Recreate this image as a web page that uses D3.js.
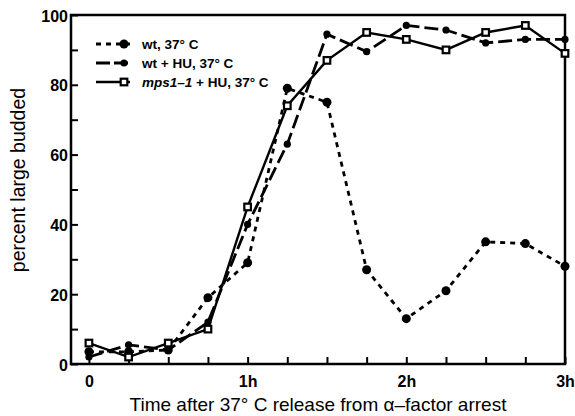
<!DOCTYPE html>
<html>
<head>
<meta charset="utf-8">
<script src="https://cdn.jsdelivr.net/npm/d3@7"></script>
<style>
  body { margin: 0; background: #fff; }
  text { font-family: "Liberation Sans", Arial, sans-serif; fill: #000; }
</style>
</head>
<body>
<svg id="chart" width="575" height="416"></svg>
<script>
// time points in hours
const times = [0, 0.25, 0.5, 0.75, 1, 1.25, 1.5, 1.75, 2, 2.25, 2.5, 2.75, 3];
const wt37 = [3.5, 3.5, 4, 19, 29, 79, 75, 27, 13, 21, 35, 34.5, 28];
const wtHU = [2, 5.5, 4, 12, 40, 63, 94.5, 89.5, 97, 95.7, 92, 93, 93];
const mps1HU = [6, 2, 6, 10, 45, 74, 87, 95, 93, 90, 95, 97, 89];
const xTickLabels = ['0', '1h', '2h', '3h'];
const yTickLabels = [0, 20, 40, 60, 80, 100];

const svg = d3.select('#chart');
const margin = {left: 71, right: 10, top: 15, bottom: 52};
const W = 575, H = 416;

const x = d3.scaleLinear().domain([-0.113, 3]).range([margin.left, W - margin.right]);
const y = d3.scaleLinear().domain([0, 100]).range([H - margin.bottom, margin.top]);

//frame
svg.append('rect')
    .attr('x', x.range()[0])
    .attr('y', y(100))
    .attr('width', x.range()[1] - x.range()[0])
    .attr('height', y(0) - y(100))
    .attr('fill', 'none')
    .attr('stroke', '#000')
    .attr('stroke-width', 2.5);

//y axis ticks
const yAxis = d3.axisLeft(y)
    .tickValues(d3.range(0, 101, 10))
    .tickSizeInner(-7)
    .tickSizeOuter(0)
    .tickPadding(10)
    .tickFormat(d => yTickLabels.includes(d) ? d : '');
const gy = svg.append('g')
    .attr('transform', `translate(${x.range()[0]},0)`)
    .call(yAxis);
gy.select('.domain').remove();
gy.selectAll('line').attr('stroke-width', 2);
gy.selectAll('text')
    .attr('x', -3)
    .style('font-size', '16px')
    .style('font-weight', 'bold')
    .attr('dy', '0.38em');

//x axis ticks
const xAxis = d3.axisBottom(x)
    .tickValues(d3.range(0, 3.01, 0.25))
    .tickSizeInner(-7)
    .tickSizeOuter(0)
    .tickPadding(12)
    .tickFormat(d => (d % 1 === 0) ? xTickLabels[d] : '');
const gx = svg.append('g')
    .attr('transform', `translate(0,${y(0)})`)
    .call(xAxis);
gx.select('.domain').remove();
gx.selectAll('line').attr('stroke-width', 2);
gx.selectAll('text')
    .style('font-size', '16px')
    .style('font-weight', 'bold');

//axis titles
svg.append('text')
    .attr('x', 318)
    .attr('y', 411)
    .attr('text-anchor', 'middle')
    .style('font-size', '19px')
    .text('Time after 37\u00b0 C release from \u03b1\u2013factor arrest');

svg.append('text')
    .attr('transform', 'translate(25,180) rotate(-90)')
    .attr('text-anchor', 'middle')
    .style('font-size', '19.5px')
    .text('percent large budded');

//series
const series = [
    {name: 'wt37', values: wt37, dash: '5,5', width: 2.8, marker: 'bigdot'},
    {name: 'wtHU', values: wtHU, dash: '14,5', width: 2.8, marker: 'dot'},
    {name: 'mps1', values: mps1HU, dash: null, width: 2.4, marker: 'square'}
];

const line = d3.line()
    .x((d, i) => x(times[i]))
    .y(d => y(d));

function drawMarker(g, type, cx, cy) {
    if (type === 'bigdot') {
        g.append('circle').attr('cx', cx).attr('cy', cy).attr('r', 4.5).attr('fill', '#000');
    } else if (type === 'dot') {
        g.append('circle').attr('cx', cx).attr('cy', cy).attr('r', 3.6).attr('fill', '#000');
    } else {
        g.append('rect')
            .attr('x', cx - 3.3).attr('y', cy - 3.3)
            .attr('width', 6.6).attr('height', 6.6)
            .attr('fill', '#fff')
            .attr('stroke', '#000')
            .attr('stroke-width', 2.2);
    }
}

series.forEach(s => {
    const g = svg.append('g').attr('class', 'series-' + s.name);
    g.append('path')
        .datum(s.values)
        .attr('d', line)
        .attr('fill', 'none')
        .attr('stroke', '#000')
        .attr('stroke-width', s.width)
        .attr('stroke-dasharray', s.dash);
    s.values.forEach((v, i) => drawMarker(g, s.marker, x(times[i]), y(v)));
});

//legend
const legendLabels = [
    [{t: 'wt, 37\u00b0 C'}],
    [{t: 'wt + HU, 37\u00b0 C'}],
    [{t: 'mps1\u20131', italic: true}, {t: ' + HU, 37\u00b0 C'}]
];
const legend = svg.append('g');
series.forEach((s, i) => {
    const ly = 44 + i * 19;
    legend.append('line')
        .attr('x1', 96).attr('x2', 130)
        .attr('y1', ly).attr('y2', ly)
        .attr('stroke', '#000')
        .attr('stroke-width', s.width)
        .attr('stroke-dasharray', s.dash ? (i === 0 ? '5,5' : '14,4') : null);
    drawMarker(legend, s.marker, 124, ly);
    const txt = legend.append('text')
        .attr('x', 142)
        .attr('y', ly + 5)
        .style('font-size', '13.5px')
        .style('font-weight', 'bold');
    legendLabels[i].forEach(p => {
        txt.append('tspan')
            .style('font-style', p.italic ? 'italic' : 'normal')
            .text(p.t);
    });
});
</script>
</body>
</html>
